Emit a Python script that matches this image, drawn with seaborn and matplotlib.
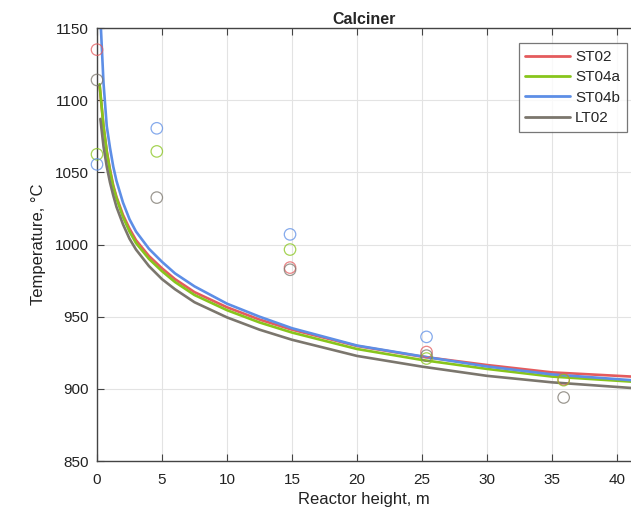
import numpy as np
import pandas as pd
import matplotlib
matplotlib.use("Agg")
import matplotlib.pyplot as plt
import seaborn as sns

# Model temperature profiles along the calciner (height in m, temperature in °C)
runs = ["ST02", "ST04a", "ST04b", "LT02"]

st02_h = [0.2, 0.5, 0.75, 1.0, 1.25, 1.5, 2, 2.5, 3, 4, 5, 6, 7.5, 10, 12.5, 15, 20, 25, 30, 35, 41.1]
st02_t = [1110, 1082, 1065, 1052, 1041, 1033, 1020.5, 1011, 1003, 992, 983.5, 976, 967, 956.5, 948, 941, 929.7, 922.3, 916.5, 911.4, 908.5]

st04a_h = [0.2, 0.5, 0.75, 1.0, 1.25, 1.5, 2, 2.5, 3, 4, 5, 6, 7.5, 10, 12.5, 15, 20, 25, 30, 35, 41.1]
st04a_t = [1111, 1082, 1064, 1051, 1040, 1032, 1019, 1009, 1001, 990, 981.5, 974, 965, 954.5, 946, 939, 927.6, 920, 913.8, 908.5, 905]

st04b_h = [0.3, 0.5, 0.75, 1.0, 1.25, 1.5, 2, 2.5, 3, 4, 5, 6, 7.5, 10, 12.5, 15, 20, 25, 30, 35, 41.1]
st04b_t = [1150, 1112, 1082, 1067, 1054, 1044, 1029, 1017.5, 1009, 997, 988, 980, 971, 959, 950, 942, 930, 922.5, 915.5, 910, 906]

lt02_h = [0.26, 0.5, 0.75, 1.0, 1.25, 1.5, 2, 2.5, 3, 4, 5, 6, 7.5, 10, 12.5, 15, 20, 25, 30, 35, 41.1]
lt02_t = [1087, 1068, 1054, 1043, 1034, 1026, 1014, 1004, 996.5, 985, 976, 969, 960, 949.5, 941, 934, 922.8, 915.4, 909, 904.5, 900.6]

# Measured temperatures (open circles)
st02_meas_h = [0, 14.85, 25.35, 35.9]
st02_meas_t = [1135, 984, 925.5, 906.5]

st04a_meas_h = [0, 4.6, 14.85, 25.35, 35.9]
st04a_meas_t = [1062.5, 1064.5, 996.5, 921, 906]

st04b_meas_h = [0, 4.6, 14.85, 25.35]
st04b_meas_t = [1055.5, 1080.5, 1007, 936]

lt02_meas_h = [0, 4.6, 14.85, 25.35, 35.9]
lt02_meas_t = [1114, 1032.5, 982.5, 923, 894]

colors = {"ST02": "#e45b5d", "ST04a": "#88c51c", "ST04b": "#5d8ee6", "LT02": "#7b766d"}

model = pd.concat([
    pd.DataFrame({"height": h, "temp": t, "run": r})
    for r, h, t in [("ST02", st02_h, st02_t), ("ST04a", st04a_h, st04a_t),
                    ("ST04b", st04b_h, st04b_t), ("LT02", lt02_h, lt02_t)]
], ignore_index=True)

meas = [("ST02", st02_meas_h, st02_meas_t), ("ST04a", st04a_meas_h, st04a_meas_t),
        ("ST04b", st04b_meas_h, st04b_meas_t), ("LT02", lt02_meas_h, lt02_meas_t)]

sns.set_theme(style="whitegrid")
plt.rcParams["font.family"] = ["Liberation Sans", "DejaVu Sans"]

fig = plt.figure(figsize=(6.31, 5.13), dpi=100)
ax = fig.add_axes([97 / 631, 1 - 461 / 513, 1 - 97 / 631, (461 - 28) / 513])

for r, h, t in meas:
    sns.scatterplot(x=h, y=t, ax=ax, marker="o", s=68, facecolor="none",
                    edgecolor=colors[r], linewidth=0.9, alpha=0.75,
                    legend=False, clip_on=False, zorder=3)

sns.lineplot(data=model, x="height", y="temp", hue="run", hue_order=runs,
             palette=colors, sort=False, estimator=None, linewidth=1.9,
             ax=ax, zorder=2)

ax.set_xlim(0, 41.08)
ax.set_ylim(850, 1150)
ax.set_xticks(np.arange(0, 41, 5))
ax.set_yticks(np.arange(850, 1151, 50))

ax.grid(True, color="#e3e3e3", linewidth=0.8)
ax.set_facecolor("white")
for side in ["left", "bottom", "top"]:
    ax.spines[side].set_visible(True)
    ax.spines[side].set_color("#444444")
    ax.spines[side].set_linewidth(1.0)
ax.spines["right"].set_visible(False)

ax.tick_params(axis="both", direction="in", length=5, width=0.8, color="#444444",
               labelsize=11, labelcolor="#222222", top=True, bottom=True, left=True)
ax.tick_params(axis="x", pad=9)
ax.tick_params(axis="y", pad=6)

ax.set_xlabel("Reactor height, m", fontsize=12, color="#222222", labelpad=3)
ax.set_ylabel("Temperature, °C", fontsize=12, color="#222222", labelpad=6)
ax.set_title("Calciner", fontsize=11.5, fontweight="bold", pad=3)

leg = ax.legend(loc="upper right", bbox_to_anchor=(0.9925, 0.9654), borderaxespad=0,
                fontsize=11, frameon=True, fancybox=False, edgecolor="#555555",
                handlelength=2.9, handletextpad=0.35, borderpad=0.45,
                labelspacing=0.42, title=None)
leg.get_frame().set_linewidth(0.9)
for line in leg.get_lines():
    line.set_linewidth(2.0)

fig.savefig("out.png", dpi=100)
